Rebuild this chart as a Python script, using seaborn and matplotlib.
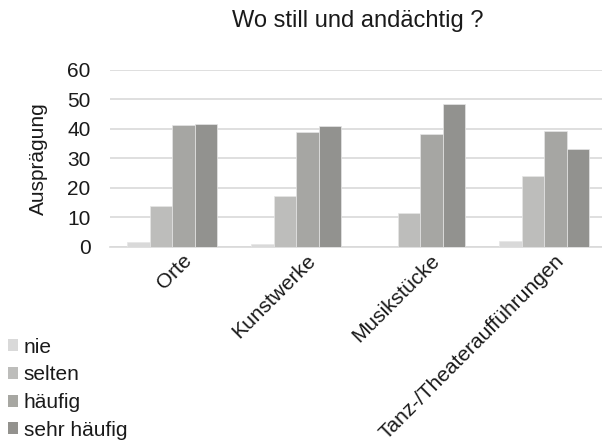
import matplotlib
matplotlib.use('Agg')
from matplotlib import pyplot as plt
from matplotlib.patches import Patch
import matplotlib.transforms as mtransforms
import pandas as pd
import seaborn as sns

# Data
categories = ['Orte', 'Kunstwerke', 'Musikstücke', 'Tanz-/Theateraufführungen']
levels = ['nie', 'selten', 'häufig', 'sehr häufig']
nie = [1.7, 1.0, 0.0, 1.9]
selten = [13.8, 17.3, 11.4, 23.9]
haeufig = [41.1, 38.9, 38.2, 39.1]
sehr_haeufig = [41.6, 40.8, 48.3, 33.1]
colors = ['#d9d9d9', '#bdbdbb', '#a7a7a2', '#93928e']

df = pd.DataFrame({
    'Kategorie': categories * 4,
    'Stufe': [lvl for lvl in levels for _ in categories],
    'Wert': nie + selten + haeufig + sehr_haeufig,
})

sns.set_style('white')
plt.rcParams['font.family'] = ['Liberation Sans', 'DejaVu Sans']

fig = plt.figure(figsize=(6.02, 4.43), dpi=100)
ax = fig.add_axes([0.183, 0.443, 0.824, 0.40])

sns.barplot(data=df, x='Kategorie', y='Wert', hue='Stufe', hue_order=levels,
            palette=colors, width=0.73, gap=0, ax=ax, legend=False,
            edgecolor='#e6e6e6', linewidth=0.5, zorder=3)

ax.set_xlim(-0.5, 3.5)
ax.set_ylim(0, 60)
ax.set_yticks(range(0, 61, 10))
ax.grid(axis='y', color='#d9d9d9', linewidth=1.2, zorder=0)
for side in ['top', 'right', 'left']:
    ax.spines[side].set_visible(False)
ax.spines['bottom'].set_color('#d9d9d9')
ax.spines['bottom'].set_linewidth(1.2)

ax.tick_params(axis='y', length=0, pad=14, labelsize=15, labelcolor='#1a1a1a')
ax.tick_params(axis='x', length=0, pad=8, labelsize=15, labelcolor='#1a1a1a')
ax.set_xlabel('')
ax.set_ylabel('Ausprägung', fontsize=15, color='#1a1a1a', labelpad=14)

# Excel-style diagonal labels, shifted a bit to the right of the tick
offset = mtransforms.ScaledTranslation(17 / 100, 0, fig.dpi_scale_trans)
for lbl in ax.get_xticklabels():
    lbl.set_rotation(45)
    lbl.set_rotation_mode('anchor')
    lbl.set_ha('right')
    lbl.set_va('center')
    lbl.set_transform(lbl.get_transform() + offset)

fig.text(0.595, 0.952, 'Wo still und andächtig ?', ha='center', va='center',
         fontsize=17, color='#1a1a1a')

handles = [Patch(facecolor=c, edgecolor='none') for c in colors]
fig.legend(handles=handles, labels=levels, loc='lower left',
           bbox_to_anchor=(-0.018, -0.035), frameon=False, fontsize=15,
           handlelength=0.5, handleheight=0.5, handletextpad=0.25,
           labelspacing=0.42, labelcolor='#1a1a1a')

fig.savefig('out.png', dpi=100)
